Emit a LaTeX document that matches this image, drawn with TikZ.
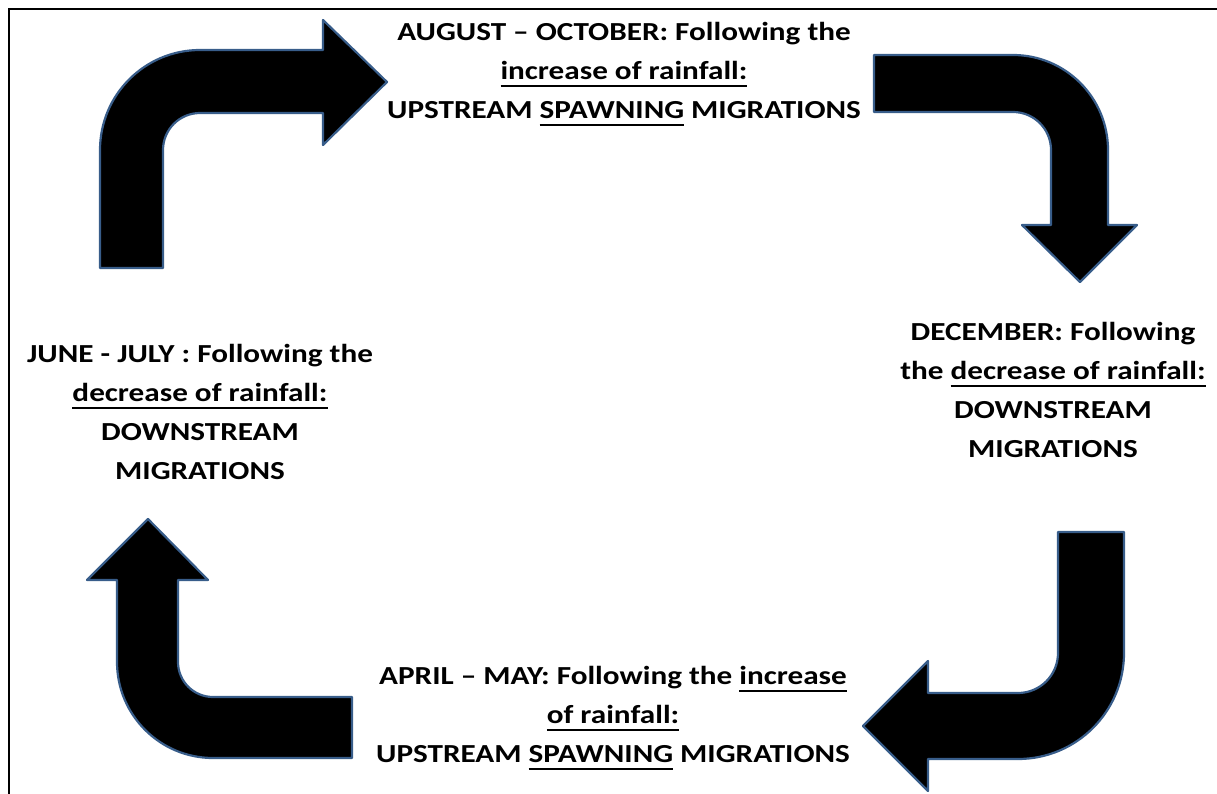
\documentclass[tikz,border=0pt]{standalone}
\usepackage{fontspec}
\setmainfont{Carlito}[FakeStretch=1.2]
\usepackage{xcolor}
\usepackage{tikz}
\usetikzlibrary{positioning}

\definecolor{arrowedge}{HTML}{385D8A}
\newcommand{\uln}[1]{\setbox0=\hbox{#1}\rlap{\rule[-7pt]{\wd0}{1.8pt}}\box0\relax}

\begin{document}
\begin{tikzpicture}[
    x=1pt, y=-1pt,
    bigarrow/.style={fill=black, draw=arrowedge, line width=2.2pt, line join=round},
    season/.style={font=\fontsize{26}{39}\selectfont\bfseries, align=center, inner sep=0pt},
    frame/.style={draw=black, line width=2pt}
]
\useasboundingbox (0,0) rectangle (1217,794);

% frame (top and left edges only)
\draw[frame] (1217,9) -- (9,9) -- (9,794);

% bent arrows, clockwise from top left
\draw[bigarrow] (100,268) -- (100,150) arc[start angle=180, end angle=270, radius=100]
    -- (323,50) -- (323,20) -- (387,82) -- (323,145) -- (323,113) -- (200,113)
    arc[start angle=270, end angle=180, radius=37] -- (163,268) -- cycle;
\draw[bigarrow] (874,55) -- (1013,55) arc[start angle=270, end angle=360, radius=95]
    -- (1108,225) -- (1137,225) -- (1080,282) -- (1022,225) -- (1051,225) -- (1051,150)
    arc[start angle=0, end angle=-90, radius=38] -- (874,112) -- cycle;
\draw[bigarrow] (1058,532) -- (1058,653) arc[start angle=0, end angle=90, radius=40]
    -- (928,693) -- (928,661) -- (863,726) -- (928,791) -- (928,759) -- (1018,759)
    arc[start angle=90, end angle=0, radius=106] -- (1124,532) -- cycle;
\draw[bigarrow] (352,697) -- (213,697) arc[start angle=90, end angle=180, radius=35]
    -- (178,580) -- (208,580) -- (148,519) -- (87,580) -- (117,580) -- (117,662)
    arc[start angle=180, end angle=90, radius=96] -- (352,758) -- cycle;

% season labels
\node[season] (augoct) at (624,74)
    {AUGUST -- OCTOBER: Following the\\ \uln{increase of rainfall:}\\ UPSTREAM \uln{SPAWNING} MIGRATIONS};
\node[season] (dec) at (1053,390)
    {DECEMBER: Following\\ the \uln{decrease of rainfall:}\\ DOWNSTREAM\\ MIGRATIONS};
\node[season] (aprmay) at (613,718)
    {APRIL -- MAY: Following the \uln{increase}\\ \uln{of rainfall:}\\ UPSTREAM \uln{SPAWNING} MIGRATIONS};
\node[season] (junjul) at (200,412)
    {JUNE - JULY : Following the\\ \uln{decrease of rainfall:}\\ DOWNSTREAM\\ MIGRATIONS};

\end{tikzpicture}
\end{document}
